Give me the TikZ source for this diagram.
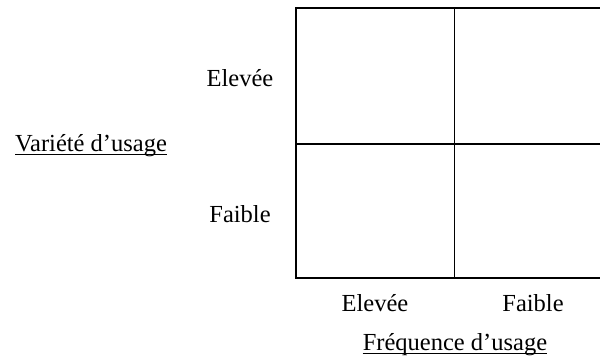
\documentclass[tikz,border=0pt]{standalone}
\usepackage{fontspec}
\setmainfont{Liberation Serif}
\begin{document}
\begin{tikzpicture}[x=1pt,y=-1pt,
  grid/.style={line width=1.8pt,black},
  uline/.style={line width=1pt,black},
  lbl/.style={inner sep=0pt,anchor=base,font=\fontsize{24.5}{29}\selectfont}]
\useasboundingbox (0,0) rectangle (600,362);
\coordinate (tl) at (296,8);
\coordinate (bl) at (296,278);
\coordinate (tr) at (600,8);
\coordinate (br) at (600,278);
\coordinate (tm) at (454.5,8);
\coordinate (bm) at (454.5,278);
\coordinate (ml) at (296,144);
\coordinate (mr) at (600,144);
\draw[grid] (tr) -- (tl) -- (bl) -- (br);
\draw[grid] (tm) -- (bm);
\draw[grid] (ml) -- (mr);
\node[lbl] (yhigh) at (240,86) {Elevée};
\node[lbl] (ylow) at (240,222) {Faible};
\node[lbl,anchor=base west] (yaxis) at (15,151) {Variété d’usage};
\node[lbl] (xhigh) at (375,311) {Elevée};
\node[lbl] (xlow) at (533,311) {Faible};
\node[lbl] (xaxis) at (455,350) {Fréquence d’usage};
\draw[uline] ([yshift=-3.5pt]yaxis.base west) -- ([yshift=-3.5pt]yaxis.base east);
\draw[uline] ([yshift=-3.5pt]xaxis.base west) -- ([yshift=-3.5pt]xaxis.base east);
\end{tikzpicture}
\end{document}
